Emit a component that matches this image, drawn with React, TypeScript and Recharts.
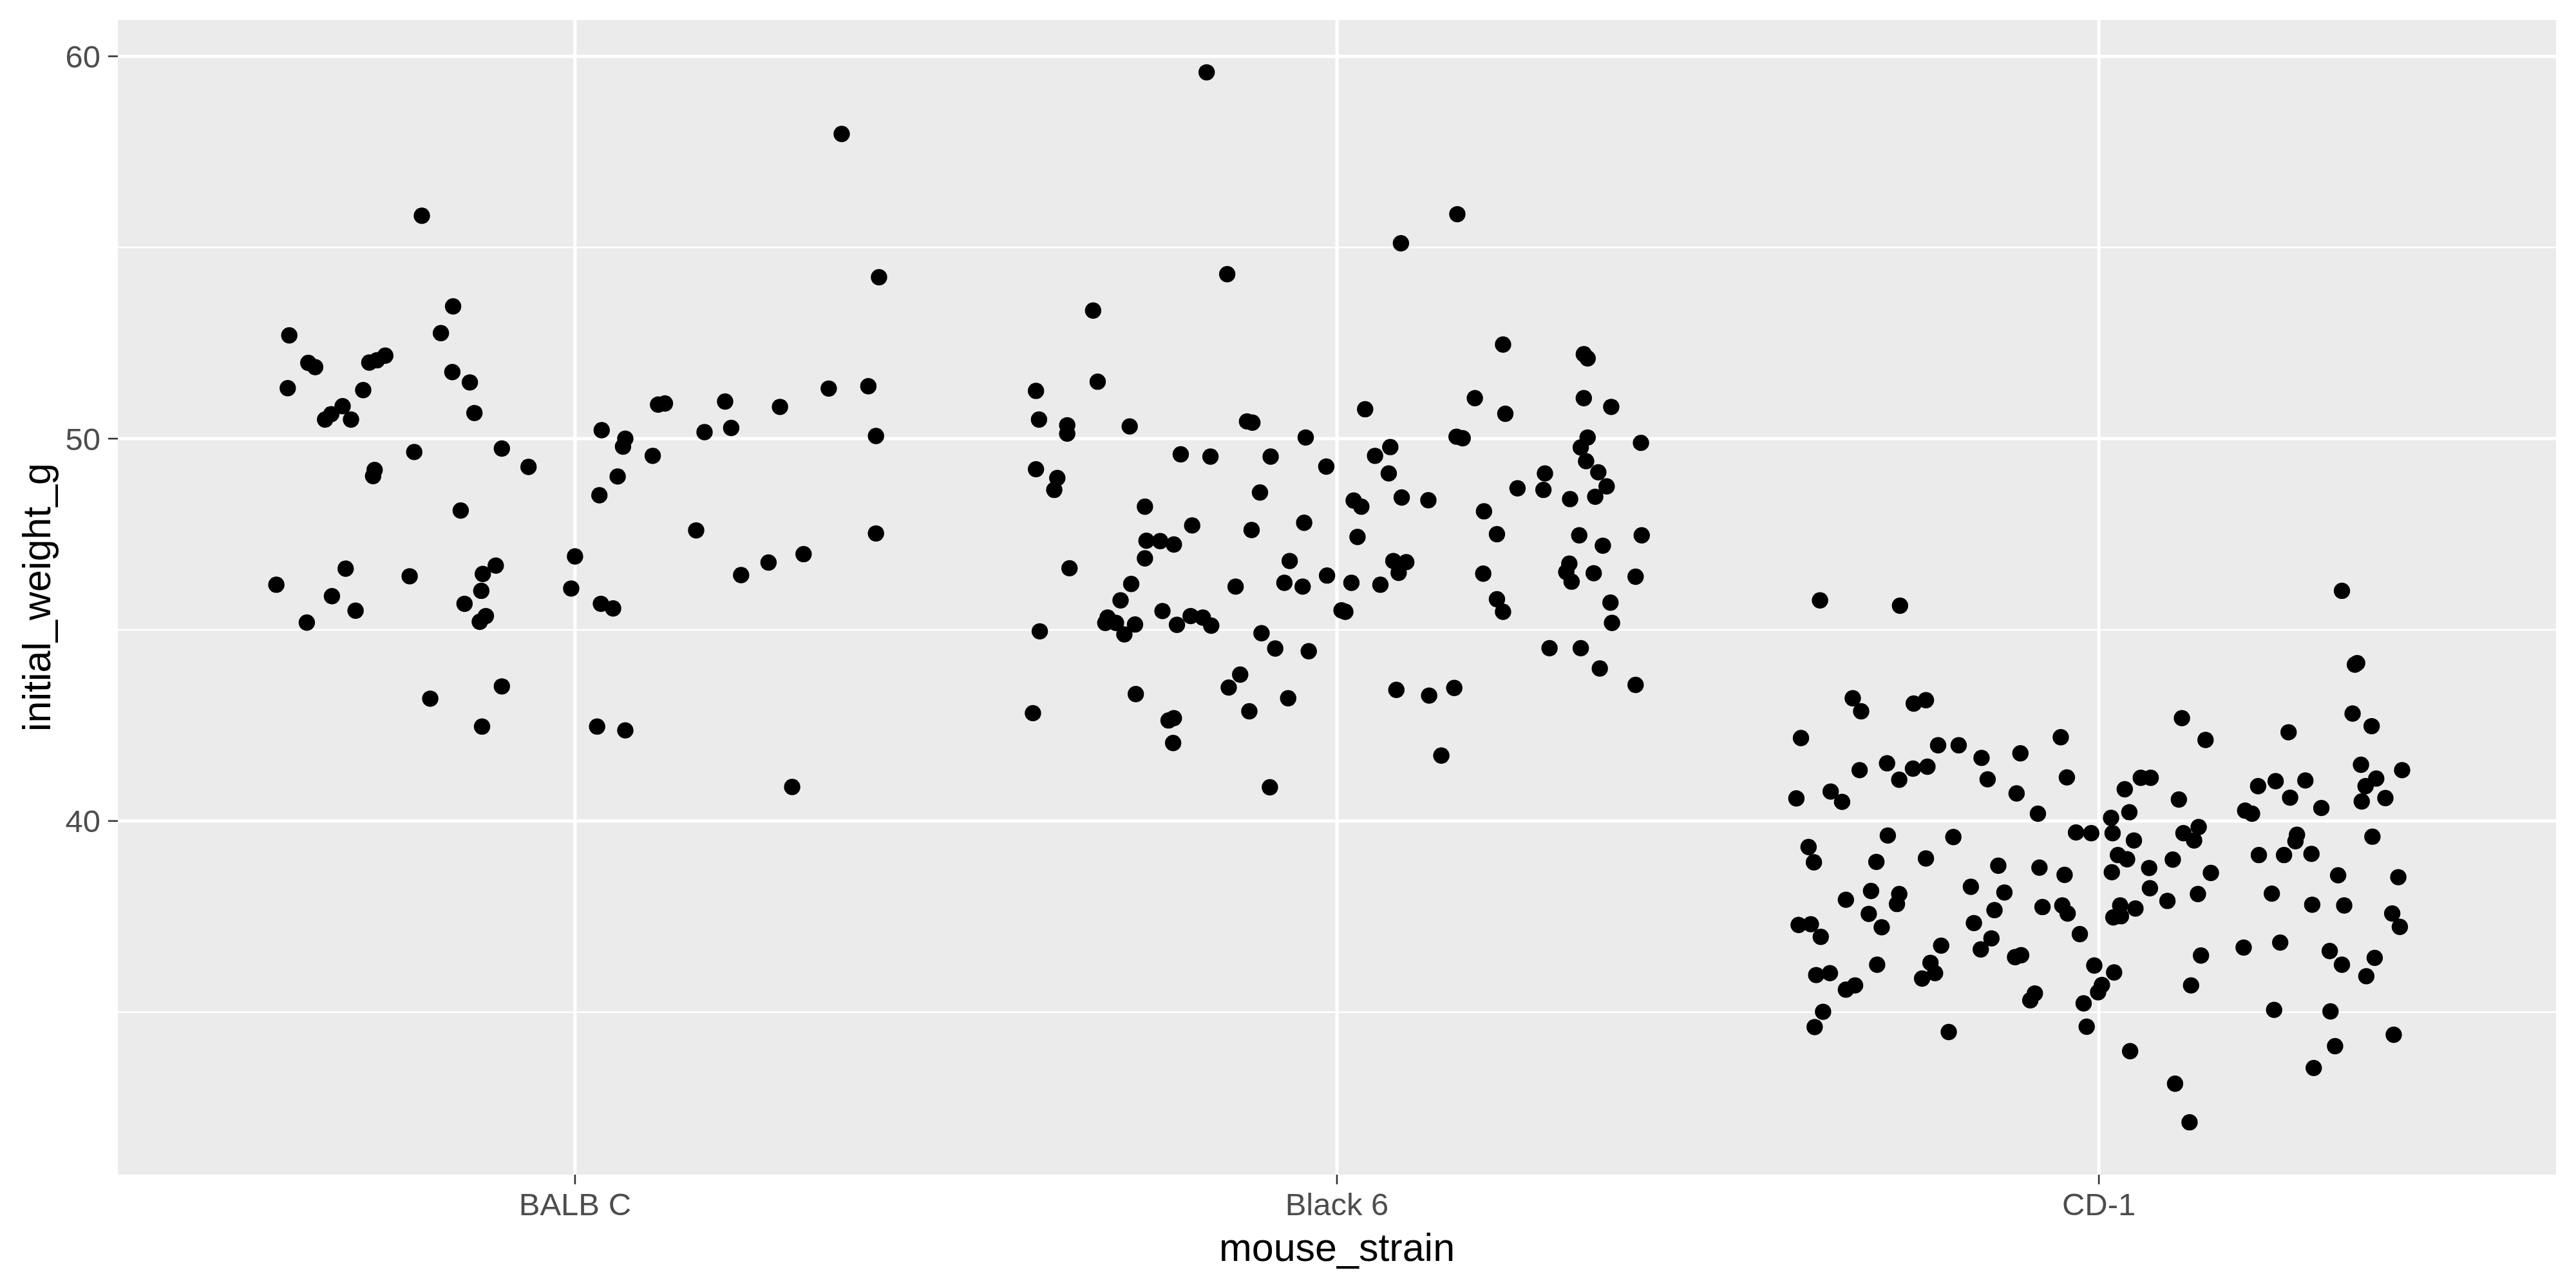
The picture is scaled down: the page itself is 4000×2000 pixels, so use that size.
import React from "react";
import { CartesianGrid, Scatter, ScatterChart, XAxis, YAxis } from "recharts";

// strains on the x axis, in order
const strains = ["BALB C", "Black 6", "CD-1"];

// [jitter offset from the strain position, initial weight in g]
const balbC: [number, number][] = [
  [-0.201, 55.83], [-0.16, 53.46], [-0.375, 52.7], [-0.176, 52.76], [-0.35, 51.98],
  [-0.341, 51.87], [-0.27, 51.99], [-0.26, 52.05], [-0.249, 52.17], [-0.161, 51.74],
  [-0.377, 51.32], [-0.278, 51.27], [-0.138, 51.47], [-0.305, 50.85], [-0.32, 50.64],
  [-0.328, 50.5], [-0.294, 50.5], [-0.132, 50.67], [-0.211, 49.65], [-0.096, 49.74],
  [-0.061, 49.26], [-0.263, 49.18], [-0.265, 49.02], [-0.15, 48.12], [-0.301, 46.6],
  [-0.392, 46.18], [-0.217, 46.4], [-0.104, 46.68], [-0.121, 46.46], [-0.123, 46.02],
  [0.0, 46.92], [-0.005, 46.08], [-0.319, 45.88], [-0.145, 45.68], [-0.288, 45.5],
  [-0.352, 45.19], [-0.117, 45.36], [-0.125, 45.21], [-0.096, 43.52], [-0.19, 43.2],
  [-0.122, 42.47], [0.35, 57.97], [0.399, 54.22], [0.333, 51.31], [0.385, 51.37],
  [0.197, 50.97], [0.109, 50.89], [0.118, 50.92], [0.269, 50.83], [0.035, 50.22],
  [0.066, 50.0], [0.063, 49.79], [0.17, 50.17], [0.205, 50.28], [0.395, 50.07],
  [0.102, 49.55], [0.056, 49.01], [0.032, 48.52], [0.159, 47.6], [0.395, 47.52],
  [0.3, 46.98], [0.254, 46.76], [0.218, 46.43], [0.034, 45.68], [0.05, 45.56],
  [0.029, 42.47], [0.066, 42.37], [0.285, 40.89],
];

const black6: [number, number][] = [
  [-0.171, 59.58], [-0.144, 54.3], [-0.32, 53.35], [-0.314, 51.49], [-0.395, 51.25],
  [-0.391, 50.5], [-0.354, 50.35], [-0.354, 50.13], [-0.272, 50.32], [-0.118, 50.45],
  [-0.111, 50.42], [-0.041, 50.03], [-0.205, 49.59], [-0.166, 49.53], [-0.087, 49.53],
  [-0.014, 49.27], [-0.395, 49.2], [-0.367, 48.97], [-0.371, 48.66], [-0.101, 48.59],
  [-0.252, 48.22], [-0.19, 47.73], [-0.112, 47.61], [-0.043, 47.8], [-0.25, 47.33],
  [-0.232, 47.32], [-0.214, 47.23], [-0.252, 46.87], [-0.351, 46.61], [-0.062, 46.8],
  [-0.013, 46.42], [-0.133, 46.13], [-0.069, 46.23], [-0.045, 46.13], [-0.27, 46.2],
  [-0.284, 45.77], [-0.301, 45.32], [-0.304, 45.18], [-0.29, 45.18], [-0.279, 44.88],
  [-0.265, 45.14], [-0.229, 45.49], [-0.21, 45.13], [-0.192, 45.36], [-0.176, 45.32],
  [-0.165, 45.11], [-0.39, 44.96], [-0.099, 44.91], [-0.081, 44.51], [-0.037, 44.44],
  [-0.127, 43.83], [-0.142, 43.49], [-0.264, 43.32], [-0.064, 43.21], [-0.399, 42.82],
  [-0.115, 42.87], [-0.221, 42.63], [-0.214, 42.69], [-0.215, 42.04], [-0.088, 40.88],
  [0.158, 55.87], [0.084, 55.11], [0.218, 52.46], [0.324, 52.21], [0.329, 52.1],
  [0.037, 50.77], [0.181, 51.06], [0.221, 50.65], [0.324, 51.06], [0.36, 50.83],
  [0.157, 50.05], [0.165, 50.01], [0.329, 50.03], [0.32, 49.77], [0.399, 49.89],
  [0.07, 49.78], [0.05, 49.55], [0.068, 49.09], [0.327, 49.41], [0.343, 49.12],
  [0.273, 49.09], [0.237, 48.7], [0.271, 48.66], [0.354, 48.75], [0.306, 48.42],
  [0.339, 48.48], [0.022, 48.38], [0.032, 48.22], [0.085, 48.46], [0.12, 48.39],
  [0.193, 48.1], [0.027, 47.43], [0.21, 47.5], [0.318, 47.47], [0.349, 47.2],
  [0.4, 47.47], [0.074, 46.8], [0.091, 46.77], [0.081, 46.49], [0.192, 46.47],
  [0.305, 46.73], [0.301, 46.51], [0.308, 46.26], [0.337, 46.48], [0.392, 46.39],
  [0.019, 46.23], [0.057, 46.18], [0.006, 45.51], [0.011, 45.47], [0.21, 45.8],
  [0.218, 45.47], [0.359, 45.71], [0.361, 45.18], [0.279, 44.52], [0.32, 44.52],
  [0.345, 43.99], [0.392, 43.56], [0.078, 43.43], [0.121, 43.28], [0.154, 43.48],
  [0.137, 41.71],
];

const cd1: [number, number][] = [
  [-0.366, 45.77], [-0.261, 45.63], [-0.323, 43.21], [-0.312, 42.87], [-0.243, 43.07],
  [-0.227, 43.16], [-0.391, 42.17], [-0.05, 42.19], [-0.211, 41.98], [-0.184, 41.98],
  [-0.154, 41.65], [-0.103, 41.77], [-0.314, 41.33], [-0.278, 41.51], [-0.262, 41.08],
  [-0.244, 41.37], [-0.225, 41.42], [-0.146, 41.09], [-0.042, 41.14], [-0.397, 40.59],
  [-0.352, 40.77], [-0.337, 40.5], [-0.108, 40.72], [-0.08, 40.19], [-0.381, 39.32],
  [-0.277, 39.62], [-0.191, 39.58], [-0.03, 39.7], [-0.01, 39.68], [-0.374, 38.92],
  [-0.292, 38.93], [-0.227, 39.02], [-0.132, 38.83], [-0.078, 38.78], [-0.045, 38.59],
  [-0.168, 38.28], [-0.124, 38.13], [-0.332, 37.94], [-0.299, 38.17], [-0.262, 38.09],
  [-0.265, 37.83], [-0.137, 37.67], [-0.074, 37.75], [-0.048, 37.79], [-0.041, 37.58],
  [-0.302, 37.57], [-0.285, 37.22], [-0.394, 37.28], [-0.378, 37.3], [-0.365, 36.97],
  [-0.164, 37.33], [-0.025, 37.04], [-0.141, 36.93], [-0.155, 36.64], [-0.207, 36.74],
  [-0.11, 36.44], [-0.102, 36.49], [-0.221, 36.29], [-0.215, 36.02], [-0.232, 35.88],
  [-0.291, 36.24], [-0.371, 35.97], [-0.353, 36.02], [-0.332, 35.59], [-0.32, 35.7],
  [-0.006, 36.22], [-0.084, 35.49], [-0.09, 35.31], [-0.02, 35.23], [-0.362, 35.01],
  [-0.373, 34.61], [-0.197, 34.48], [-0.016, 34.62], [0.319, 46.02], [0.336, 44.09],
  [0.339, 44.13], [0.109, 42.69], [0.14, 42.12], [0.249, 42.32], [0.333, 42.81],
  [0.358, 42.48], [0.344, 41.47], [0.398, 41.33], [0.364, 41.11], [0.35, 40.91],
  [0.345, 40.51], [0.376, 40.6], [0.055, 41.13], [0.068, 41.13], [0.034, 40.83],
  [0.105, 40.56], [0.209, 40.91], [0.232, 41.04], [0.271, 41.06], [0.251, 40.61],
  [0.292, 40.34], [0.192, 40.27], [0.201, 40.19], [0.04, 40.23], [0.016, 40.08],
  [0.018, 39.68], [0.046, 39.49], [0.111, 39.68], [0.131, 39.84], [0.125, 39.49],
  [0.26, 39.64], [0.258, 39.47], [0.359, 39.59], [0.025, 39.11], [0.037, 39.0],
  [0.097, 38.99], [0.21, 39.11], [0.243, 39.11], [0.279, 39.14], [0.017, 38.66],
  [0.066, 38.77], [0.147, 38.64], [0.314, 38.58], [0.393, 38.53], [0.067, 38.24],
  [0.13, 38.09], [0.227, 38.1], [0.09, 37.91], [0.028, 37.79], [0.048, 37.71],
  [0.019, 37.48], [0.029, 37.51], [0.28, 37.81], [0.322, 37.79], [0.385, 37.58],
  [0.395, 37.23], [0.238, 36.82], [0.19, 36.69], [0.134, 36.48], [0.303, 36.6],
  [0.319, 36.24], [0.362, 36.42], [0.351, 35.94], [0.02, 36.04], [0.004, 35.71],
  [-0.001, 35.52], [0.121, 35.7], [0.23, 35.06], [0.304, 35.02], [0.387, 34.41],
  [0.31, 34.11], [0.282, 33.54], [0.041, 33.98], [0.1, 33.13], [0.119, 32.12],
];

const yTicks = [40, 50, 60];
const yMinorTicks = [35, 45, 55];
const xTicks = [1, 2, 3];

const font = "'Liberation Sans', Arial, Helvetica, sans-serif";

const toPoints = (pts: [number, number][], idx: number) =>
  pts.map(([j, w]) => ({ x: idx + 1 + j, y: w }));

const data = [
  ...toPoints(balbC, 0),
  ...toPoints(black6, 1),
  ...toPoints(cd1, 2),
];

const renderDot = (props: any) => (
  <circle cx={props.cx} cy={props.cy} r={12.7} fill="#000000" />
);

export default function App() {
  return (
    <div style={{ position: "absolute", left: 0, top: 0, fontFamily: font }}>
      <ScatterChart
        width={4000}
        height={2000}
        margin={{ top: 31, right: 31, bottom: 0, left: 0 }}
      >
        <CartesianGrid
          fill="#EBEBEB"
          fillOpacity={1}
          stroke="#FFFFFF"
          strokeWidth={2.5}
          horizontalValues={yMinorTicks}
          vertical={false}
        />
        <CartesianGrid
          stroke="#FFFFFF"
          strokeWidth={5}
          horizontalValues={yTicks}
          verticalValues={xTicks}
        />
        <XAxis
          type="number"
          dataKey="x"
          domain={[0.4, 3.6]}
          ticks={xTicks}
          interval={0}
          allowDataOverflow
          tickFormatter={(v: number) => strains[v - 1]}
          height={176}
          axisLine={false}
          tickSize={15}
          tickMargin={13}
          tickLine={{ stroke: "#333333", strokeWidth: 2.6 }}
          tick={{ fill: "#4D4D4D", fontSize: 49, fontFamily: font }}
          label={{
            value: "mouse_strain",
            position: "insideBottom",
            offset: 42,
            fill: "#000000",
            fontSize: 61,
            fontFamily: font,
          }}
        />
        <YAxis
          type="number"
          dataKey="y"
          domain={[30.75, 60.95]}
          ticks={yTicks}
          interval={0}
          allowDataOverflow
          width={183}
          axisLine={false}
          tickSize={15}
          tickMargin={12}
          tickLine={{ stroke: "#333333", strokeWidth: 2.6 }}
          tick={{ fill: "#4D4D4D", fontSize: 49, fontFamily: font }}
          label={{
            value: "initial_weight_g",
            angle: -90,
            position: "insideLeft",
            offset: 56,
            fill: "#000000",
            fontSize: 61,
            fontFamily: font,
            style: { textAnchor: "middle" },
          }}
        />
        <Scatter data={data} shape={renderDot} isAnimationActive={false} />
      </ScatterChart>
    </div>
  );
}
